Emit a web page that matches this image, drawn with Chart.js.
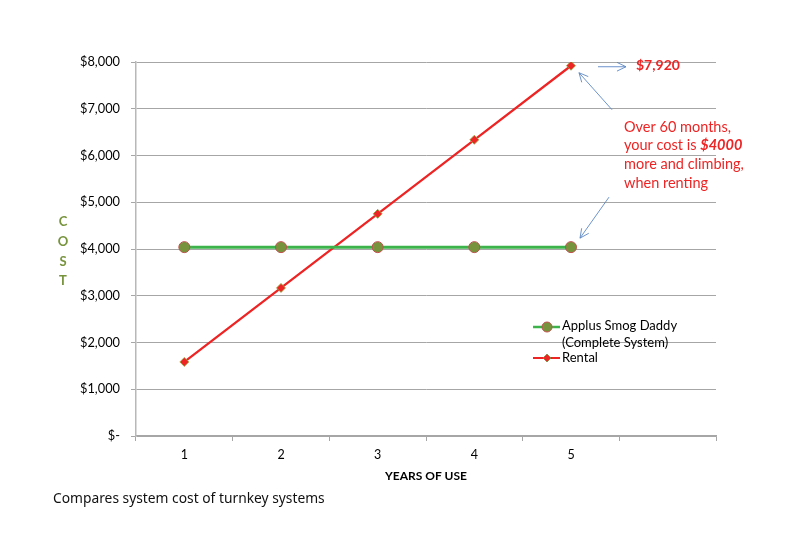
<!DOCTYPE html>
<html>
<head>
<meta charset="utf-8">
<script src="https://cdn.jsdelivr.net/npm/chart.js@4.4.0/dist/chart.umd.min.js"></script>
<style>
html,body{margin:0;padding:0;background:#fff;}
#wrap{width:792px;height:535px;position:relative;}
</style>
</head>
<body>
<div id="wrap"><canvas id="c" width="792" height="535"></canvas></div>
<script>
const categories = ['1', '2', '3', '4', '5', ''];
const applusValues = [4040, 4040, 4040, 4040, 4040, null];
const rentalValues = [1584, 3168, 4752, 6336, 7920, null];
const yTickValues = [0, 1000, 2000, 3000, 4000, 5000, 6000, 7000, 8000];
const seriesNames = ['Applus Smog Daddy', '(Complete System)', 'Rental'];
const calloutLines = ['Over 60 months,', 'your cost is ', 'more and climbing,', 'when renting'];
const calloutBold = '$4000';
const peakLabel = '$7,920';
const yTitleLetters = ['C', 'O', 'S', 'T'];
const xTitle = 'YEARS OF USE';
const footer = 'Compares system cost of turnkey systems';

const FONT = 'Lato, "Open Sans", sans-serif';
const GREEN = '#3cb44b';
const OLIVE = '#77933c';
const RED = '#ee2424';
const ARROW = '#5b87c5';

function fmt(v){
  if (v === 0) return '$-';
  return '$' + v.toLocaleString('en-US');
}

function arrow(ctx, x1, y1, x2, y2){
  ctx.save();
  ctx.strokeStyle = ARROW;
  ctx.lineWidth = 0.9;
  ctx.beginPath();
  ctx.moveTo(x1, y1); ctx.lineTo(x2, y2);
  const a = Math.atan2(y2 - y1, x2 - x1);
  const L = 10, w = 0.45;
  ctx.moveTo(x2 - L * Math.cos(a - w), y2 - L * Math.sin(a - w));
  ctx.lineTo(x2, y2);
  ctx.lineTo(x2 - L * Math.cos(a + w), y2 - L * Math.sin(a + w));
  ctx.stroke();
  ctx.restore();
}

const overlay = {
  id: 'overlay',
  afterDraw(chart){
    const ctx = chart.ctx;
    const xs = chart.scales.x, ys = chart.scales.y;
    ctx.save();
    // Y title
    ctx.fillStyle = OLIVE;
    ctx.font = 'bold 13px ' + FONT;
    ctx.textAlign = 'center';
    ctx.textBaseline = 'middle';
    yTitleLetters.forEach((l, i) => ctx.fillText(l, 63, 222 + i * 19.7));
    // X title
    ctx.fillStyle = '#000';
    ctx.font = 'bold 12px ' + FONT;
    ctx.fillText(xTitle, 426, 476);
    // footer
    ctx.font = '13.8px "Noto Sans", sans-serif';
    ctx.textAlign = 'left';
    ctx.fillStyle = '#111';
    ctx.fillText(footer, 53, 499);

    // annotations
    const px = xs.getPixelForValue(4);
    const pyTop = ys.getPixelForValue(rentalValues[4]);
    const pyA = ys.getPixelForValue(applusValues[4]);
    ctx.fillStyle = RED;
    ctx.font = 'bold 14px ' + FONT;
    ctx.textAlign = 'left';
    ctx.fillText(peakLabel, 636, pyTop);
    arrow(ctx, px + 27, pyTop + 1, px + 55, pyTop + 1);
    arrow(ctx, px + 41, pyTop + 44, px + 8, pyTop + 7);
    arrow(ctx, px + 38, pyA - 50, px + 9, pyA - 9);

    ctx.font = '14.5px ' + FONT;
    const tx = 624, ty0 = 127, lh = 18.7;
    ctx.fillText(calloutLines[0], tx, ty0);
    ctx.fillText(calloutLines[1], tx, ty0 + lh);
    const w1 = ctx.measureText(calloutLines[1]).width;
    ctx.font = 'italic bold 14.5px ' + FONT;
    ctx.fillText(calloutBold, tx + w1, ty0 + lh);
    ctx.font = '14.5px ' + FONT;
    ctx.fillText(calloutLines[2], tx, ty0 + 2 * lh);
    ctx.fillText(calloutLines[3], tx, ty0 + 3 * lh);

    // legend
    const lx = 533, lw = 27;
    ctx.lineWidth = 2.5;
    ctx.strokeStyle = GREEN;
    ctx.beginPath(); ctx.moveTo(lx, 327); ctx.lineTo(lx + lw, 327); ctx.stroke();
    ctx.fillStyle = OLIVE; ctx.strokeStyle = '#c0504d'; ctx.lineWidth = 1;
    ctx.beginPath(); ctx.arc(lx + 14, 327, 5, 0, Math.PI * 2); ctx.fill(); ctx.stroke();
    ctx.lineWidth = 2; ctx.strokeStyle = RED;
    ctx.beginPath(); ctx.moveTo(lx, 358); ctx.lineTo(lx + lw, 358); ctx.stroke();
    ctx.fillStyle = RED; ctx.strokeStyle = OLIVE; ctx.lineWidth = 0.8;
    ctx.beginPath(); ctx.moveTo(lx + 14, 354); ctx.lineTo(lx + 18, 358); ctx.lineTo(lx + 14, 362); ctx.lineTo(lx + 10, 358); ctx.closePath(); ctx.fill(); ctx.stroke();
    ctx.fillStyle = '#000';
    ctx.font = '13px ' + FONT;
    ctx.textBaseline = 'middle';
    ctx.fillText(seriesNames[0], 562, 326);
    ctx.fillText(seriesNames[1], 562, 343);
    ctx.fillText(seriesNames[2], 562, 358);
    ctx.restore();
  }
};

new Chart(document.getElementById('c'), {
  type: 'line',
  data: {
    labels: categories,
    datasets: [
      {
        label: seriesNames[0],
        data: applusValues,
        borderColor: GREEN,
        borderWidth: 3,
        pointStyle: 'circle',
        pointRadius: 5.5,
        pointBackgroundColor: OLIVE,
        pointBorderColor: '#c0504d',
        pointBorderWidth: 1,
        tension: 0
      },
      {
        label: seriesNames[2],
        data: rentalValues,
        borderColor: RED,
        borderWidth: 2.3,
        pointStyle: 'rectRot',
        pointRadius: 4.5,
        pointBackgroundColor: RED,
        pointBorderColor: '#8fae3e',
        pointBorderWidth: 0.8,
        tension: 0
      }
    ]
  },
  options: {
    responsive: false,
    animation: false,
    events: [],
    layout: { padding: { left: 0, right: 76, top: 62, bottom: 0 } },
    plugins: { legend: { display: false }, tooltip: { enabled: false }, title: { display: false } },
    scales: {
      x: {
        type: 'category',
        offset: true,
        border: { color: '#a6a6a6', width: 1.2 },
        grid: { offset: true, drawOnChartArea: false, drawTicks: true, tickLength: 5, color: '#a6a6a6' },
        ticks: { color: '#000', font: { family: FONT, size: 12.5 }, padding: 6, maxRotation: 0, autoSkip: false },
        afterFit(s){ s.height = 99; }
      },
      y: {
        min: 0, max: 8000,
        afterBuildTicks(s){ s.ticks = yTickValues.map(v => ({ value: v })); },
        border: { color: '#b8b8b8', width: 1.5 },
        grid: { color: '#a6a6a6', lineWidth: 1, tickLength: 5, drawTicks: true },
        ticks: { color: '#000', font: { family: FONT, size: 12.8 }, padding: 11, callback: v => fmt(v) },
        afterFit(s){ s.width = 136; }
      }
    }
  },
  plugins: [overlay]
});
</script>
</body>
</html>
